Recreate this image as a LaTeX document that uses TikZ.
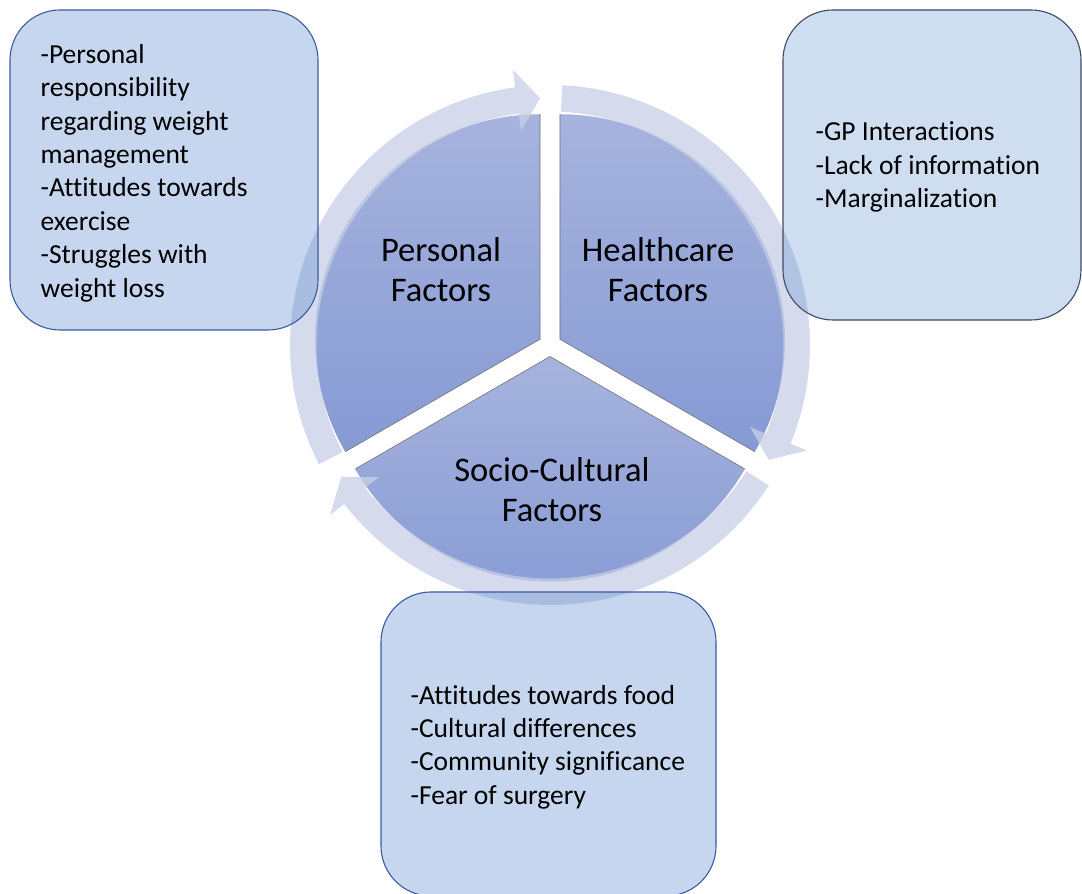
\documentclass[tikz,border=0pt]{standalone}
\usepackage{fontspec}
\setmainfont{Carlito}[Ligatures={NoCommon}]

\definecolor{wedgetop}{RGB}{166,179,221}
\definecolor{wedgebot}{RGB}{134,154,212}
\definecolor{ringcol}{RGB}{199,207,231}
\definecolor{boxblue}{RGB}{79,130,203}
\definecolor{boxline}{RGB}{58,92,158}
\definecolor{hcline}{RGB}{64,74,99}

\begin{document}
\begin{tikzpicture}[x=1pt,y=1pt,
  wedge/.style={top color=wedgetop,bottom color=wedgebot},
  cut/.style={draw=black!55,line width=0.6pt},
  ring/.style={fill=ringcol,fill opacity=0.75},
  infobox/.style={draw=boxline,line width=1.1pt,fill=boxblue,fill opacity=0.33,
    text opacity=1,rounded corners=50pt},
  infotext/.style={font=\fontsize{27.5}{33.4}\selectfont,align=left,inner sep=0pt,anchor=west},
  title/.style={font=\fontsize{34.5}{40}\selectfont,align=center}]
  \useasboundingbox (0,0) rectangle (1082,894);

  % dimensions
  \def\r{225}    % rayon des secteurs
  \def\d{11.5}   % décalage des secteurs
  \def\R{247}    % milieu de l'anneau
  \def\Ro{260}   % bord extérieur de l'anneau
  \def\Ri{233.5} % bord intérieur de l'anneau
  \def\Ho{278}   % pointe de flèche, côté extérieur
  \def\Hi{216}   % pointe de flèche, côté intérieur

  \coordinate (C) at (550,549);
  \path (C) ++(150:\d) coordinate (pA);
  \path (C) ++(30:\d) coordinate (pB);
  \path (C) ++(270:\d) coordinate (pC);

  % secteurs du disque
  \path[wedge] (pA) -- ++(90:\r) arc[start angle=90,end angle=210,radius=\r] -- cycle;
  \path[wedge] (pB) -- ++(-30:\r) arc[start angle=-30,end angle=90,radius=\r] -- cycle;
  \path[wedge] (pC) -- ++(210:\r) arc[start angle=210,end angle=330,radius=\r] -- cycle;
  \draw[cut] (pA) ++(90:\r) -- (pA) -- ++(210:\r);
  \draw[cut] (pB) ++(-30:\r) -- (pB) -- ++(90:\r);
  \draw[cut] (pC) ++(210:\r) -- (pC) -- ++(330:\r);

  % anneau fléché
  \begin{scope}[shift={(C)}]
    \foreach \t in {207.3,87.3,-32.7}{
      \pgfmathsetmacro\b{\t-109.6}
      \pgfmathsetmacro\e{\t-115}
      \path[ring] (\t:\Ro) arc[start angle=\t,end angle=\b,radius=\Ro]
        -- (\b:\Ho) -- (\e:\R) -- (\b:\Hi) -- (\b:\Ri)
        arc[start angle=\b,end angle=\t,radius=\Ri] -- cycle;
    }
  \end{scope}

  % titres
  \node[title] (personal) at (441,624) {Personal\\Factors};
  \node[title] (healthcare) at (658,624) {Healthcare\\Factors};
  \node[title] (socio) at (552,404) {Socio-Cultural\\Factors};

  % encadrés
  \node[infobox,minimum width=308pt,minimum height=320pt] (personal box) at (164,724) {};
  \node[infobox,draw=hcline,fill opacity=0.27,minimum width=298pt,minimum height=310pt]
    (healthcare box) at (932,729) {};
  \node[infobox,minimum width=335pt,minimum height=304pt] (socio box) at (548.5,150) {};

  \node[infotext] (personal text) at ([xshift=31pt,yshift=-3pt]personal box.west)
    {-Personal\\responsibility\\regarding weight\\management\\-Attitudes towards\\exercise\\-Struggles with\\weight loss};
  \node[infotext] (healthcare text) at ([xshift=33pt,yshift=-2pt]healthcare box.west)
    {-GP Interactions\\-Lack of information\\-Marginalization};
  \node[infotext] (socio text) at ([xshift=30pt,yshift=-3pt]socio box.west)
    {-Attitudes towards food\\-Cultural differences\\-Community significance\\-Fear of surgery};
\end{tikzpicture}
\end{document}
